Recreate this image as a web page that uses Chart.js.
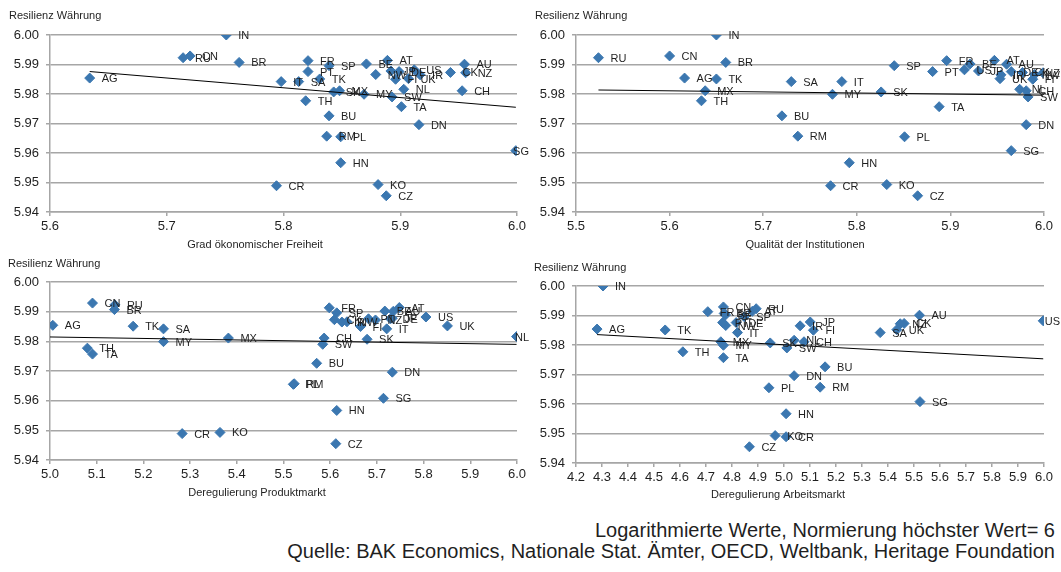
<!DOCTYPE html>
<html>
<head>
<meta charset="utf-8">
<script src="https://cdn.jsdelivr.net/npm/chart.js@4.4.1/dist/chart.umd.min.js"></script>
<style>
  body { margin: 0; width: 1061px; height: 572px; background: #fff; position: relative; overflow: hidden;
         font-family: "Liberation Sans", Arial, sans-serif; }
  canvas { position: absolute; }
  .note { position: absolute; right: 6px; font-size: 20px; line-height: 21px; color: #1f1f1f; white-space: nowrap; }
</style>
</head>
<body>
<canvas id="c1" width="530" height="255" style="left:0;top:0"></canvas>
<canvas id="c2" width="531" height="255" style="left:530px;top:0"></canvas>
<canvas id="c3" width="530" height="250" style="left:0;top:255px"></canvas>
<canvas id="c4" width="531" height="255" style="left:530px;top:255px"></canvas>
<div class="note" style="top:520px">Logarithmierte Werte, Normierung höchster Wert= 6</div>
<div class="note" style="top:541px">Quelle: BAK Economics, Nationale Stat. Ämter, OECD, Weltbank, Heritage Foundation</div>
<script>
const countries = ['AG','AT','AU','BE','BR','BU','CH','CK','CN','CR','CZ','DE','DN','FI','FR','HN','IN','IR','IT','JP',
                   'KO','MX','MY','NL','NW','NZ','PL','PT','RM','RU','SA','SG','SK','SP','SW','TA','TH','TK','UK','US'];

// Resilienz Währung (y in every panel)
const resilience = [5.9854, 5.9914, 5.9901, 5.9902, 5.9907, 5.9726, 5.9811, 5.9873, 5.9929, 5.9489,
                    5.9455, 5.9876, 5.9696, 5.9850, 5.9913, 5.9567, 6.0000, 5.9865, 5.9842, 5.9878,
                    5.9493, 5.9811, 5.9799, 5.9816, 5.9866, 5.9872, 5.9655, 5.9876, 5.9657, 5.9923,
                    5.9842, 5.9608, 5.9807, 5.9896, 5.9790, 5.9757, 5.9777, 5.9851, 5.9852, 5.9882];

// Grad ökonomischer Freiheit
const freedom = [5.634, 5.889, 5.955, 5.871, 5.762, 5.839, 5.953, 5.943, 5.720, 5.794,
                 5.888, 5.899, 5.916, 5.896, 5.821, 5.849, 5.751, 5.917, 5.798, 5.892,
                 5.881, 5.848, 5.869, 5.903, 5.879, 5.956, 5.849, 5.821, 5.837, 5.714,
                 5.813, 5.999, 5.843, 5.839, 5.893, 5.901, 5.819, 5.831, 5.907, 5.912];

// Qualität der Institutionen
const institutions = [5.616, 5.947, 5.960, 5.921, 5.660, 5.720, 5.981, 5.977, 5.600, 5.772,
                      5.865, 5.965, 5.981, 5.988, 5.896, 5.792, 5.650, 5.954, 5.784, 5.930,
                      5.832, 5.638, 5.774, 5.974, 5.990, 5.999, 5.851, 5.881, 5.737, 5.524,
                      5.730, 5.965, 5.826, 5.840, 5.983, 5.888, 5.634, 5.650, 5.953, 5.915];

// Deregulierung Produktmarkt (IN lies left of the visible axis range)
const productMarket = [5.006, 5.748, 5.735, 5.717, 5.138, 5.571, 5.587, 5.609, 5.091, 5.283,
                       5.612, 5.729, 5.733, 5.665, 5.598, 5.614, 4.850, 5.625, 5.721, 5.733,
                       5.364, 5.382, 5.243, 5.999, 5.636, 5.697, 5.521, 5.682, 5.523, 5.139,
                       5.243, 5.714, 5.679, 5.614, 5.584, 5.091, 5.080, 5.178, 5.851, 5.805];

// Deregulierung Arbeitsmarkt
const labourMarket = [4.281, 4.878, 5.521, 4.775, 4.770, 5.158, 5.077, 5.462, 4.767, 5.008,
                      4.867, 4.816, 5.039, 5.113, 4.707, 5.008, 4.304, 5.062, 4.821, 5.101,
                      4.966, 4.757, 4.767, 5.039, 4.776, 5.447, 4.942, 4.764, 5.139, 4.893,
                      5.370, 5.523, 4.947, 4.847, 5.011, 4.767, 4.611, 4.543, 5.434, 5.997];

const yLabel = 'Resilienz Währung';
const FONT = '"Liberation Sans", Arial, sans-serif';
const TEXT = '#1f1f1f';
const GRID = '#a6a6a6';
const BLUE = '#3b77b0';

function points(xs) {
  return countries.map((c, i) => ({ x: xs[i], y: resilience[i], label: c }))
                  .filter(p => p.x !== null);
}

// linear trend (least squares) over all points of the series
function trend(pts) {
  const n = pts.length;
  const mx = pts.reduce((s, p) => s + p.x, 0) / n;
  const my = pts.reduce((s, p) => s + p.y, 0) / n;
  let sxy = 0, sxx = 0;
  pts.forEach(p => { sxy += (p.x - mx) * (p.y - my); sxx += (p.x - mx) * (p.x - mx); });
  const b = sxy / sxx, a = my - b * mx;
  const xs = pts.map(p => p.x);
  const x0 = Math.min(...xs), x1 = Math.max(...xs);
  return [{ x: x0, y: a + b * x0 }, { x: x1, y: a + b * x1 }];
}

const labelPlugin = {
  id: 'labelPlugin',
  afterDatasetsDraw(chart, args, opts) {
    const ctx = chart.ctx;
    const area = chart.chartArea;
    const ds = chart.data.datasets[0];
    const meta = chart.getDatasetMeta(0);
    ctx.save();
    ctx.fillStyle = TEXT;
    ctx.font = '11px ' + FONT;
    ctx.textBaseline = 'middle';
    ctx.textAlign = 'left';
    meta.data.forEach((el, i) => {
      if (el.x < area.left - 1 || el.x > area.right + 1) return;
      const t = ds.data[i].label;
      const w = ctx.measureText(t).width;
      let x = el.x + 12;
      if (x + w > chart.width - 1) x = chart.width - 1 - w;
      ctx.fillText(t, x, el.y + 1);
    });
    ctx.fillText(yLabel, opts.capX, opts.capY);
    ctx.textAlign = 'center';
    ctx.fillText(opts.xTitle, opts.titleX, opts.titleY);
    ctx.restore();
  }
};

function makeChart(id, xs, xMin, xMax, d) {
  const pts = points(xs);
  return new Chart(document.getElementById(id), {
    type: 'scatter',
    data: {
      datasets: [{
        data: pts,
        pointStyle: 'rectRot',
        pointRadius: 5,
        pointHoverRadius: 5,
        pointBackgroundColor: BLUE,
        pointBorderColor: BLUE,
        pointBorderWidth: 1,
        order: 1
      }, {
        data: trend(pts),
        showLine: true,
        borderColor: '#000',
        borderWidth: 1,
        pointRadius: 0,
        fill: false,
        order: 0
      }]
    },
    options: {
      responsive: false,
      animation: false,
      layout: { padding: { top: d.top, right: d.right, bottom: 0, left: 0 } },
      scales: {
        x: {
          type: 'linear', min: xMin, max: xMax,
          ticks: { stepSize: 0.1, autoSkip: false, maxRotation: 0, padding: 3, color: TEXT,
                   font: { family: FONT, size: 13 }, callback: v => v.toFixed(1) },
          grid: { drawOnChartArea: false, drawTicks: true, tickLength: 4, color: GRID, lineWidth: 1.5 },
          border: { display: true, color: GRID, width: 1.5 },
          afterFit(s) { s.height = d.xh; }
        },
        y: {
          min: 5.94, max: 6.0,
          ticks: { stepSize: 0.01, padding: 7, color: TEXT,
                   font: { family: FONT, size: 13 }, callback: v => v.toFixed(2) },
          grid: { color: GRID, lineWidth: 1.5, tickLength: 4 },
          border: { display: true, color: GRID, width: 1.5 },
          afterFit(s) { s.width = d.yw; }
        }
      },
      plugins: {
        legend: { display: false },
        tooltip: { enabled: false },
        labelPlugin: { capX: d.capX, capY: d.capY, xTitle: d.xTitle, titleX: d.titleX, titleY: d.titleY }
      }
    },
    plugins: [labelPlugin]
  });
}

makeChart('c1', freedom, 5.6, 6.0,
  { top: 35, right: 13, yw: 50, xh: 43, capX: 9, capY: 16,
    xTitle: 'Grad ökonomischer Freiheit', titleX: 255, titleY: 245 });
makeChart('c2', institutions, 5.5, 6.0,
  { top: 35, right: 17, yw: 46, xh: 43, capX: 5, capY: 16,
    xTitle: 'Qualität der Institutionen', titleX: 275, titleY: 245 });
makeChart('c3', productMarket, 5.0, 6.0,
  { top: 27, right: 13, yw: 50, xh: 45, capX: 8, capY: 9,
    xTitle: 'Deregulierung Produktmarkt', titleX: 257, titleY: 238 });
makeChart('c4', labourMarket, 4.2, 6.0,
  { top: 31, right: 17, yw: 46, xh: 47, capX: 4, capY: 13,
    xTitle: 'Deregulierung Arbeitsmarkt', titleX: 248, titleY: 240 });
</script>
</body>
</html>
